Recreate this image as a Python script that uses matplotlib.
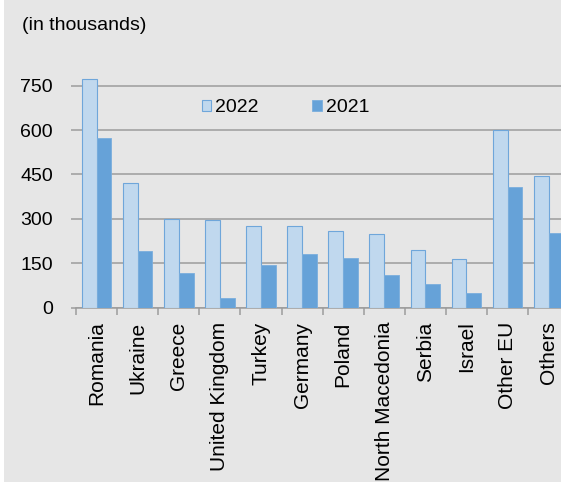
import numpy as np
import matplotlib
matplotlib.use('Agg')
import matplotlib.pyplot as plt
from matplotlib.patches import Rectangle

# values (in thousands)
countries = ['Romania', 'Ukraine', 'Greece', 'United Kingdom', 'Turkey', 'Germany',
             'Poland', 'North Macedonia', 'Serbia', 'Israel', 'Other EU', 'Others']
values_2022 = [772, 422, 301, 297, 277, 276, 260, 250, 196, 166, 601, 444]
values_2021 = [573, 190, 118, 33, 144, 182, 167, 110, 80, 51, 407, 251]
yticks = [0, 150, 300, 450, 600, 750]

plt.rcParams['font.family'] = ['Liberation Sans', 'DejaVu Sans']
plt.rcParams['font.size'] = 14

fig = plt.figure(figsize=(5.61, 4.86), dpi=100, facecolor='white')

# grey panel behind everything (thin white margin left and bottom)
fig.patches.append(Rectangle((4 / 561, 4 / 486), 1, 1, transform=fig.transFigure,
                             facecolor='#e6e6e6', edgecolor='none', zorder=-10))

# axes run past the right edge, so the last group is cut off like in the source
ax = fig.add_axes([76 / 561, 178.3 / 486, 493.2 / 561, 236.8 / 486])
ax.set_facecolor('none')

x = np.arange(len(countries))
w = 0.36
ax.bar(x - w / 2, values_2022, w, color='#c0d8ee', edgecolor='#6fa6da',
       linewidth=0.8, label='2022', zorder=3)
ax.bar(x + w / 2, values_2021, w, color='#66a2d8', edgecolor='#7aaedd',
       linewidth=0.6, label='2021', zorder=3)

ax.set_ylim(0, 800)
ax.set_xlim(-0.5, len(countries) - 0.5)
ax.set_yticks(yticks)
ax.yaxis.grid(True, color='#9c9c9c', linewidth=1.1, zorder=0)
ax.tick_params(axis='y', length=3.6, width=1.1, color='#9c9c9c', pad=13)

ax.set_xticks(x)
ax.set_xticklabels(countries, rotation=90, fontsize=15)
ax.set_xticks(np.arange(len(countries) + 1) - 0.5, minor=True)
ax.tick_params(axis='x', which='major', length=0, pad=10)
ax.tick_params(axis='x', which='minor', length=5, width=1.1, color='#9c9c9c')

for s in ['left', 'right', 'top']:
    ax.spines[s].set_visible(False)
ax.spines['bottom'].set_color('#9c9c9c')
ax.spines['bottom'].set_linewidth(1.1)

ax.legend(loc='center left', bbox_to_anchor=(201.7 / 561, 1 - 108 / 486),
          bbox_transform=fig.transFigure, ncol=2, frameon=False,
          borderpad=0, borderaxespad=0, handlelength=0.5, handleheight=0.5,
          handletextpad=0.2, columnspacing=2.75)

fig.text(21.7 / 561, 1 - 25.5 / 486, '(in thousands)', ha='left', va='center')

fig.savefig('out.png', dpi=100, facecolor='white')
